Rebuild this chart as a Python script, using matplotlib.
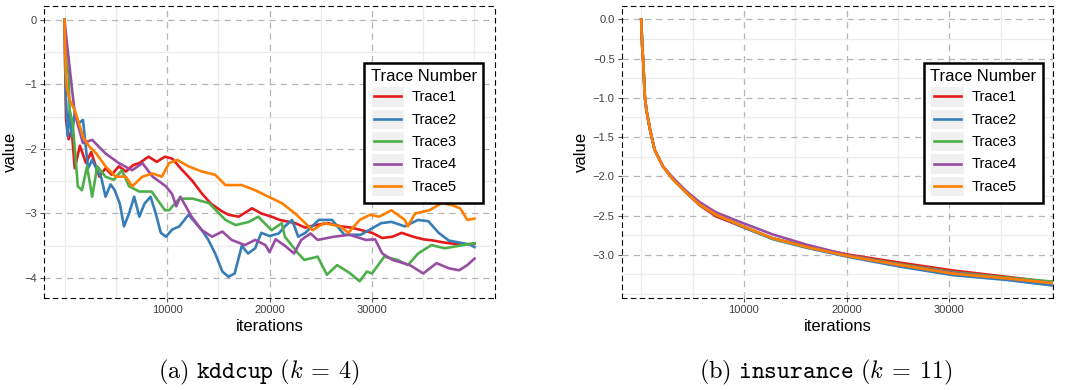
import numpy as np
import matplotlib
matplotlib.use("Agg")
import matplotlib.pyplot as plt
from matplotlib.legend_handler import HandlerLine2D
from matplotlib.lines import Line2D
from matplotlib.patches import Rectangle

plt.rcParams['font.family'] = ['Liberation Sans', 'DejaVu Sans']
plt.rcParams['mathtext.fontset'] = 'cm'

# ---------- data: kddcup (k = 4) ----------
kdd_t1_iter = [0, 150, 400, 700, 1000, 1500, 2100, 2600, 3400, 4000, 4600, 5300, 6000, 6700, 7300, 8200,
               9000, 9800, 10500, 11500, 12500, 13400, 14300, 15400, 16000, 17000, 18300, 19200, 20200,
               21000, 22500, 23500, 24500, 25700, 27000, 28000, 29000, 30000, 31000, 32000, 32900, 34000,
               35000, 36000, 37000, 38000, 39000, 40000]
kdd_t1_val = [0, -1.55, -1.85, -1.7, -2.3, -1.95, -2.22, -2.05, -2.43, -2.3, -2.4, -2.27, -2.35, -2.25, -2.22,
              -2.12, -2.2, -2.12, -2.15, -2.33, -2.5, -2.69, -2.85, -2.97, -3.02, -3.05, -2.92, -3.0, -3.05,
              -3.1, -3.15, -3.22, -3.18, -3.15, -3.2, -3.22, -3.26, -3.3, -3.38, -3.36, -3.3, -3.36,
              -3.4, -3.42, -3.45, -3.47, -3.48, -3.47]

kdd_t2_iter = [0, 100, 300, 500, 700, 1000, 1400, 1800, 2300, 2700, 3100, 3600, 4000, 4500, 4900, 5400, 5800,
               6300, 6800, 7300, 7800, 8400, 8900, 9400, 9900, 10500, 11200, 12100, 12800, 13400, 14000,
               14700, 15400, 16000, 16600, 17300, 17900, 18600, 19200, 20000, 20900, 21500, 22200, 22800,
               23500, 24800, 26100, 27300, 28900, 30900, 31900, 33200, 34500, 35500, 36500, 37500, 38500,
               39500, 40000]
kdd_t2_val = [0, -1.05, -1.8, -1.4, -1.8, -1.45, -1.6, -1.55, -2.3, -2.17, -2.3, -2.45, -2.74, -2.55, -2.64,
              -2.85, -3.2, -3.0, -2.74, -3.05, -2.85, -2.74, -3.0, -3.3, -3.36, -3.25, -3.2, -3.02, -3.15,
              -3.26, -3.4, -3.62, -3.9, -3.98, -3.93, -3.5, -3.62, -3.54, -3.3, -3.35, -3.31, -3.2, -3.1,
              -3.36, -3.3, -3.1, -3.1, -3.33, -3.33, -3.15, -3.13, -3.2, -3.1, -3.12, -3.3, -3.42, -3.45,
              -3.48, -3.52]

kdd_t3_iter = [0, 200, 400, 500, 800, 1300, 1700, 2200, 2700, 3200, 4000, 4800, 5600, 6300, 7300, 8500, 9800,
               10200, 11200, 12500, 14100, 15700, 16700, 18000, 18900, 20200, 21200, 21500, 22800, 23400,
               24700, 25600, 26600, 27800, 28800, 29500, 30000, 31200, 32500, 33500, 34500, 35800, 37100,
               38500, 40000]
kdd_t3_val = [0, -0.7, -0.83, -1.4, -1.6, -2.58, -2.64, -2.27, -2.74, -2.27, -2.43, -2.48, -2.33, -2.58,
              -2.66, -2.66, -2.95, -2.95, -2.77, -2.77, -2.84, -3.1, -3.18, -3.13, -3.05, -3.26, -3.15,
              -3.36, -3.62, -3.72, -3.67, -3.95, -3.8, -3.92, -4.05, -3.9, -3.93, -3.67, -3.72, -3.8,
              -3.62, -3.49, -3.54, -3.5, -3.46]

kdd_t4_iter = [0, 200, 600, 1000, 1800, 2700, 4000, 5300, 6600, 7600, 8600, 9900, 10500, 10900, 11300, 12400,
               13400, 14400, 15400, 16300, 17600, 18600, 19600, 20000, 20600, 21500, 22400, 23100, 24000,
               24700, 26300, 27800, 29400, 30300, 31000, 32000, 33700, 35000, 36300, 37500, 38500, 39300,
               40000]
kdd_t4_val = [0, -0.31, -0.88, -1.45, -1.91, -1.86, -2.07, -2.22, -2.33, -2.22, -2.43, -2.58, -2.7, -2.89,
              -2.74, -3.05, -3.26, -3.36, -3.28, -3.41, -3.49, -3.41, -3.49, -3.6, -3.4, -3.5, -3.62, -3.41,
              -3.31, -3.41, -3.36, -3.33, -3.41, -3.4, -3.62, -3.72, -3.8, -3.93, -3.77, -3.85, -3.88,
              -3.8, -3.7]

kdd_t5_iter = [0, 100, 200, 500, 1000, 1300, 1800, 2400, 3100, 4000, 5000, 6000, 6600, 7600, 8600, 9500,
               10200, 11000, 12100, 13400, 14700, 15700, 17300, 18600, 19900, 21200, 22500, 24200, 25300,
               26900, 27700, 28800, 29800, 30700, 31900, 33200, 33500, 34200, 35600, 36800, 37800, 38600,
               39300, 40000]
kdd_t5_val = [0, -0.7, -1.03, -1.24, -1.4, -1.55, -1.81, -1.96, -2.07, -2.27, -2.43, -2.43, -2.58, -2.43,
              -2.38, -2.43, -2.22, -2.17, -2.27, -2.35, -2.4, -2.56, -2.56, -2.64, -2.74, -2.84, -3.0,
              -3.26, -3.15, -3.2, -3.3, -3.1, -3.02, -3.05, -2.95, -3.1, -3.2, -3.0, -2.95, -2.84, -2.87,
              -2.92, -3.1, -3.08]

# ---------- data: insurance (k = 11) ----------
ins_iter = [0, 100, 200, 350, 500, 850, 1300, 2100, 3100, 4400, 5700, 7300, 9600, 12800, 16100, 20300,
            25200, 30400, 35600, 40000]
ins_t1 = [0, -0.35, -0.55, -0.98, -1.15, -1.40, -1.66, -1.87, -2.04, -2.21, -2.37, -2.51, -2.63, -2.79,
          -2.89, -3.00, -3.10, -3.20, -3.28, -3.35]
ins_t2 = [0, -0.35, -0.55, -0.98, -1.15, -1.40, -1.66, -1.87, -2.04, -2.21, -2.36, -2.49, -2.63, -2.80,
          -2.91, -3.03, -3.15, -3.26, -3.32, -3.39]
ins_t3 = [0, -0.35, -0.55, -0.98, -1.15, -1.40, -1.66, -1.87, -2.04, -2.21, -2.36, -2.49, -2.62, -2.79,
          -2.90, -3.01, -3.12, -3.22, -3.29, -3.34]
ins_t4 = [0, -0.35, -0.55, -0.98, -1.15, -1.40, -1.66, -1.87, -2.02, -2.19, -2.33, -2.46, -2.58, -2.74,
          -2.87, -3.01, -3.13, -3.23, -3.30, -3.36]
ins_t5 = [0, -0.35, -0.55, -0.98, -1.15, -1.40, -1.66, -1.87, -2.04, -2.21, -2.36, -2.49, -2.62, -2.79,
          -2.90, -3.02, -3.13, -3.24, -3.30, -3.36]

trace_names = ['Trace1', 'Trace2', 'Trace3', 'Trace4', 'Trace5']
colors = ['#E41A1C', '#377EB8', '#4DAF4A', '#984EA3', '#FF7F00']


class KeyHandler(HandlerLine2D):
    # legend key with a light grey box behind the line, like ggplot
    def create_artists(self, legend, orig_handle, xdescent, ydescent, width, height, fontsize, trans):
        bg = Rectangle((-xdescent, -ydescent), width, height, facecolor='#f0f0f0',
                       edgecolor='white', lw=0.8, transform=trans)
        y = -ydescent + height / 2
        ln = Line2D([-xdescent + width * 0.1, -xdescent + width * 0.9], [y, y],
                    color=orig_handle.get_color(), lw=orig_handle.get_linewidth(), transform=trans)
        return [bg, ln]


def style_axes(ax, xlim, ylim, yticks, yminor, xminor):
    ax.set_xlim(*xlim)
    ax.set_ylim(*ylim)
    ax.set_xticks([10000, 20000, 30000])
    ax.set_yticks(yticks)
    ax.set_xticks(xminor, minor=True)
    ax.set_yticks(yminor, minor=True)
    ax.grid(True, which='minor', color='#ebebeb', lw=0.9, ls='-', zorder=0)
    ax.grid(True, which='major', color='#b5b5b5', lw=0.9, ls=(0, (5, 4)), zorder=0)
    ax.set_axisbelow(True)
    for sp in ax.spines.values():
        sp.set_linestyle((0, (4, 4)))
        sp.set_linewidth(0.8)
        sp.set_color('black')
    ax.tick_params(which='major', length=3, width=0.8, color='#555555', labelsize=8,
                   labelcolor='#404040', pad=2)
    ax.tick_params(which='minor', length=0)


fig = plt.figure(figsize=(10.69, 3.9), dpi=100)
ax1 = fig.add_axes([44 / 1069, 1 - 298 / 390, 451 / 1069, 292 / 390])
ax2 = fig.add_axes([621.7 / 1069, 1 - 298 / 390, 431.3 / 1069, 292 / 390])

kdd_iters = [kdd_t1_iter, kdd_t2_iter, kdd_t3_iter, kdd_t4_iter, kdd_t5_iter]
kdd_vals = [kdd_t1_val, kdd_t2_val, kdd_t3_val, kdd_t4_val, kdd_t5_val]
for it, v, name, c in zip(kdd_iters, kdd_vals, trace_names, colors):
    ax1.plot(it, v, color=c, lw=1.9, label=name, zorder=3)

for v, name, c in zip([ins_t1, ins_t2, ins_t3, ins_t4, ins_t5], trace_names, colors):
    ax2.plot(ins_iter, v, color=c, lw=1.9, label=name, zorder=3)

style_axes(ax1, (-2000, 42000), (-4.31, 0.215), [-4, -3, -2, -1, 0],
           [-3.5, -2.5, -1.5, -0.5], [0, 5000, 15000, 25000, 35000, 40000])
style_axes(ax2, (-1900, 40100), (-3.55, 0.17), [-3.0, -2.5, -2.0, -1.5, -1.0, -0.5, 0.0],
           [-3.5, -3.25, -2.75, -2.25, -1.75, -1.25, -0.75, -0.25], [0, 5000, 15000, 25000, 35000, 40000])

for ax, anchor, ypad in [(ax1, (0.974, 0.806), 4.5), (ax2, (0.977, 0.806), 2.5)]:
    ax.set_xlabel('iterations', fontsize=12, labelpad=3)
    ax.set_ylabel('value', fontsize=12, labelpad=ypad)
    leg = ax.legend(title='Trace Number', loc='upper right', bbox_to_anchor=anchor,
                    fontsize=10.5, title_fontsize=12, alignment='left',
                    handler_map={Line2D: KeyHandler()},
                    handlelength=2.3, handleheight=1.75, labelspacing=0.15, handletextpad=0.5,
                    borderpad=0.45, borderaxespad=0, fancybox=False, framealpha=1)
    leg.get_frame().set_edgecolor('black')
    leg.get_frame().set_linewidth(1.8)
    leg.set_zorder(5)

fig.text(259 / 1069, 1 - 372 / 390, r'$\mathrm{(a)}\ \mathtt{kddcup}\ (k\:=\:4)$',
         ha='center', va='center', fontsize=17.5)
fig.text(826 / 1069, 1 - 372 / 390, r'$\mathrm{(b)}\ \mathtt{insurance}\ (k\:=\:11)$',
         ha='center', va='center', fontsize=17.5)

fig.savefig('out.png', dpi=100)
